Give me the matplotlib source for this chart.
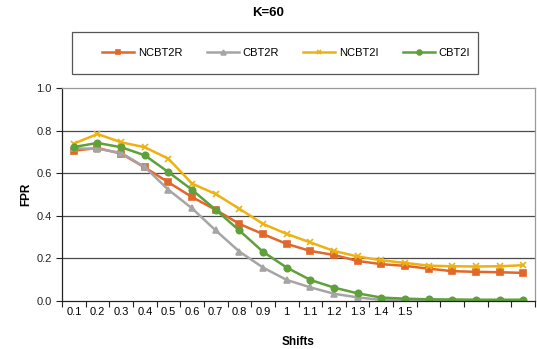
import matplotlib
matplotlib.use("Agg")
import matplotlib.pyplot as plt
from matplotlib.patches import Rectangle
import numpy as np

plt.rcParams["font.family"] = ["Liberation Sans", "DejaVu Sans"]

# 20 shift steps; only the first 15 carry a tick label
SHIFT_LABELS = ["0.1", "0.2", "0.3", "0.4", "0.5", "0.6", "0.7", "0.8", "0.9", "1",
                "1.1", "1.2", "1.3", "1.4", "1.5", "", "", "", "", ""]

NCBT2R = [0.706, 0.718, 0.692, 0.627, 0.557, 0.488, 0.428, 0.362, 0.314, 0.268,
          0.235, 0.216, 0.188, 0.173, 0.165, 0.152, 0.140, 0.137, 0.135, 0.132]
CBT2R = [0.716, 0.715, 0.695, 0.629, 0.522, 0.435, 0.331, 0.232, 0.157, 0.099,
         0.064, 0.034, 0.017, 0.005, 0.004, 0.003, 0.002, 0.002, 0.002, 0.002]
NCBT2I = [0.739, 0.784, 0.745, 0.722, 0.668, 0.551, 0.502, 0.433, 0.362, 0.315,
          0.275, 0.235, 0.209, 0.191, 0.179, 0.166, 0.163, 0.162, 0.163, 0.168]
CBT2I = [0.723, 0.742, 0.722, 0.684, 0.605, 0.522, 0.428, 0.331, 0.231, 0.157,
         0.099, 0.063, 0.036, 0.016, 0.011, 0.008, 0.007, 0.006, 0.006, 0.006]

SERIES = [
    ("NCBT2R", NCBT2R, "#E2672A", "s", 4.2),
    ("CBT2R", CBT2R, "#A5A5A5", "^", 4.5),
    ("NCBT2I", NCBT2I, "#EDB211", "x", 5.0),
    ("CBT2I", CBT2I, "#5EA13A", "o", 4.6),
]

fig = plt.figure(figsize=(5.37, 3.49), dpi=100)
ax = fig.add_axes([62 / 537, 48 / 349, 473 / 537, 213 / 349])

x = np.arange(len(SHIFT_LABELS))
for name, vals, col, mk, ms in SERIES:
    ax.plot(x, vals, color=col, lw=1.8, marker=mk, ms=ms, mew=1.2,
            label=name)

ax.set_xlim(-0.5, len(SHIFT_LABELS) - 0.5)
ax.set_ylim(0, 1.0)
ax.set_yticks(np.arange(0, 1.01, 0.2))
ax.set_yticklabels([f"{v:.1f}" for v in np.arange(0, 1.01, 0.2)])
for yv in [0.2, 0.4, 0.6, 0.8]:
    ax.axhline(yv, color="#4a4a4a", lw=0.9, zorder=0)

# category boundaries get the tick marks, labels sit between them
ax.set_xticks(np.arange(-0.5, len(SHIFT_LABELS), 1.0))
ax.set_xticklabels([])
ax.set_xticks(x, minor=True)
ax.set_xticklabels(SHIFT_LABELS, minor=True)
ax.tick_params(axis="x", which="minor", length=0, pad=4, labelsize=8)
ax.tick_params(axis="x", which="major", length=4, width=0.8, color="#222222")
ax.tick_params(axis="y", length=4, width=0.8, labelsize=8, color="#222222",
               labelcolor="#222222")
ax.tick_params(axis="x", labelcolor="#222222")

for side in ["top", "right"]:
    ax.spines[side].set_color("#9a9a9a")
    ax.spines[side].set_linewidth(0.9)
for side in ["left", "bottom"]:
    ax.spines[side].set_color("#222222")
    ax.spines[side].set_linewidth(0.9)

ax.set_xlabel("Shifts", fontsize=8.5, fontweight="bold", labelpad=14)
ax.set_ylabel("FPR", fontsize=8.5, fontweight="bold", labelpad=3)

fig.text(268 / 537, 1 - 13 / 349, "K=60", ha="center", va="center",
         fontsize=9.5, fontweight="bold")

# legend box drawn separately so the entries can sit inset from its edges
fig.patches.append(Rectangle((72 / 537, 1 - 74 / 349), 406 / 537, 42 / 349,
                             transform=fig.transFigure, fill=False,
                             edgecolor="#555555", lw=0.9))
handles, labels = ax.get_legend_handles_labels()
leg = fig.legend(handles, labels, loc="center", ncol=4,
                 bbox_to_anchor=(286 / 537, 1 - 53 / 349),
                 fontsize=8, frameon=False, handlelength=2.9,
                 handletextpad=0.3, columnspacing=2.2)
for h in leg.legend_handles:
    h.set_markersize(3.5)

fig.savefig("out.png", dpi=100)
